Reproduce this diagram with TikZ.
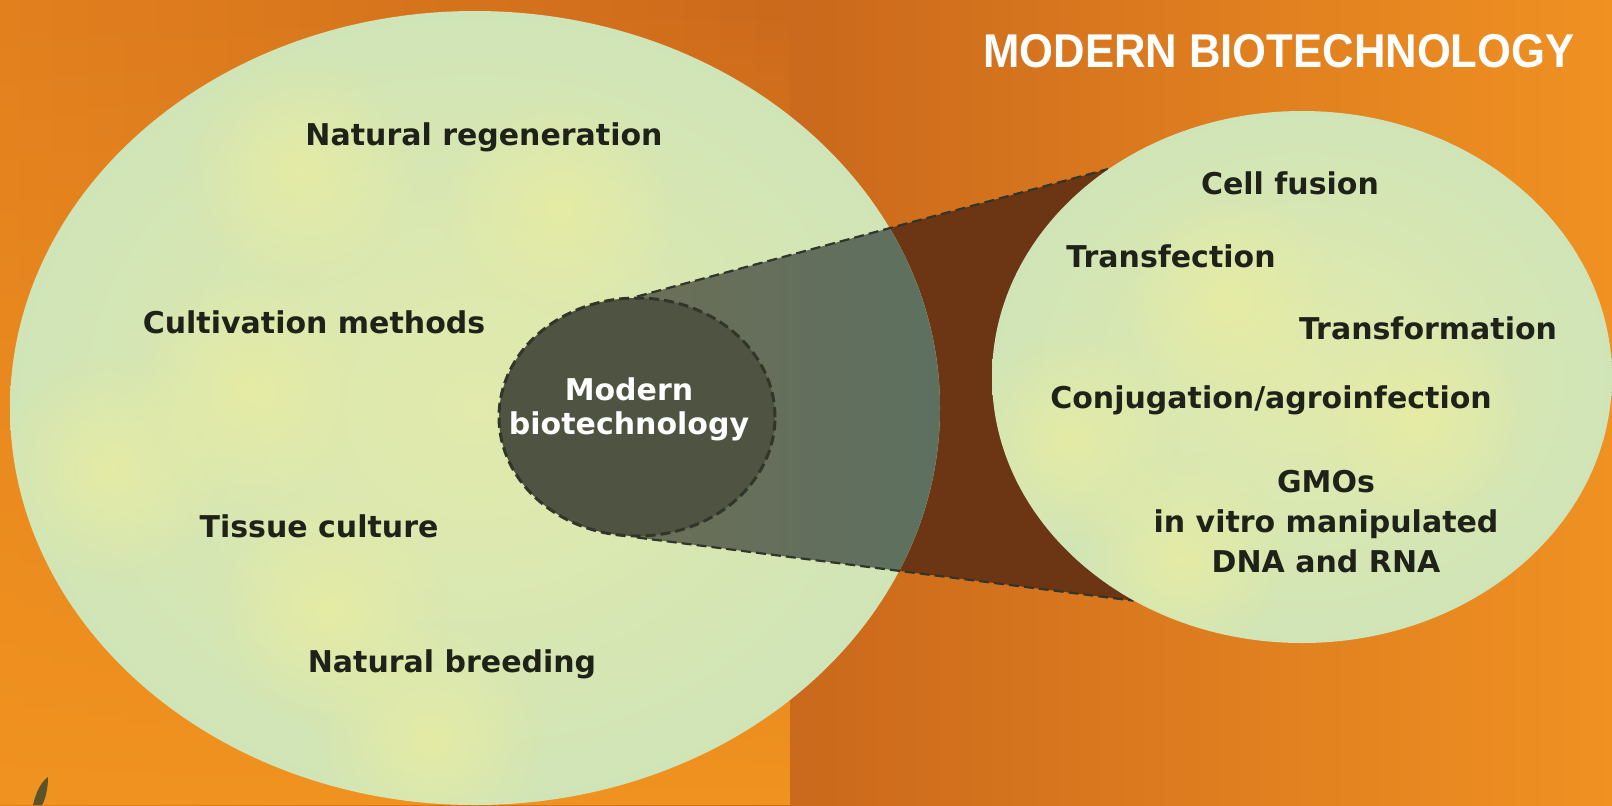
\documentclass[tikz,border=0pt]{standalone}
\usepackage{fontspec}
\setmainfont{DejaVu Sans}
\newfontfamily\titlefont{Liberation Sans}
\usepackage{graphicx}
\usetikzlibrary{shapes.geometric,fadings}

\definecolor{bgleft}{RGB}{226,128,30}
\definecolor{bgdeep}{RGB}{203,105,28}
\definecolor{bgright}{RGB}{240,145,34}
\definecolor{bglight}{RGB}{241,147,32}
\definecolor{blobcentre}{RGB}{226,234,172}
\definecolor{blobmid}{RGB}{206,228,184}
\definecolor{blobedge}{RGB}{174,217,201}
\definecolor{blobyellow}{RGB}{234,237,160}
\definecolor{corefill}{RGB}{79,84,66}
\definecolor{coreline}{RGB}{50,53,41}
\definecolor{conegrey}{RGB}{107,111,87}
\definecolor{conesea}{RGB}{84,112,102}
\definecolor{conebrown}{RGB}{108,54,20}
\definecolor{labeltext}{RGB}{30,34,24}
\definecolor{leafcol}{RGB}{92,84,40}

\pgfdeclareradialshading{blobglow}{\pgfpoint{0bp}{0bp}}{color(0bp)=(blobcentre); color(28bp)=(blobmid); color(50bp)=(blobedge); color(60bp)=(blobedge)}
\tikzfading[name=softspot, inner color=transparent!0, outer color=transparent!100]
\tikzfading[name=risefade, top color=transparent!100, bottom color=transparent!0]

\pgfdeclarelayer{back}
\pgfdeclarelayer{front}
\pgfsetlayers{back,main,front}

\begin{document}
\begin{tikzpicture}[x=0.5pt, y=-0.5pt,
    bigblob/.style={ellipse, shade, shading=blobglow, inner sep=0pt},
    coreblob/.style={ellipse, fill=corefill, draw=coreline, dash pattern=on 5pt off 2.5pt, line width=1.5pt, minimum width=138pt, minimum height=119pt, inner sep=0pt},
    coneedge/.style={draw=coreline, dash pattern=on 5pt off 2.5pt, line width=1.1pt},
    spot/.style={fill=blobyellow, path fading=softspot, opacity=0.75},
    itemtext/.style={text=labeltext, font=\bfseries\fontsize{15}{18}\selectfont, align=center},
    coretext/.style={text=white, font=\bfseries\fontsize{15}{17}\selectfont, align=center},
    titletext/.style={text=white, font=\titlefont\bfseries\fontsize{23.7}{28}\selectfont}]
    \useasboundingbox (0,0) rectangle (1612,805);

    % Background
    \begin{pgfonlayer}{back}
        \shade[left color=bgleft, right color=bgright, middle color=bgdeep] (0,0) rectangle (1612,805);
        \fill[bglight, path fading=risefade] (0,0) rectangle (790,805);
        \fill[leafcol] (33,805) .. controls (36,792) and (41,782) .. (48,777) .. controls (48,790) and (45,800) .. (42,805) -- cycle;
    \end{pgfonlayer}

    % Zoom target and core
    \begin{pgfonlayer}{front}
        \node[bigblob, minimum width=310pt, minimum height=266pt] (zoomed) at (1302,377) {};
        \begin{scope}
            \clip (zoomed.center) ellipse [x radius=155pt, y radius=133pt];
            \foreach \x/\y in {1070/440, 1230/300, 1180/560, 1420/420} {
                \fill[spot] (\x,\y) circle [radius=55pt];
            }
        \end{scope}
        \node[coreblob] (core) at (637,417) {};
    \end{pgfonlayer}

    % Cone between the two ellipses
    \fill[conebrown] (core.north) -- (zoomed.133) -- (zoomed.233) -- (core.south) -- cycle;

    % Traditional methods
    \node[bigblob, minimum width=465pt, minimum height=397pt] (trad) at (475,408) {};
    \begin{scope}
        \clip (trad.center) ellipse [x radius=232.5pt, y radius=198.5pt];
        \foreach \x/\y in {300/170, 560/210, 110/470, 330/610, 250/390, 430/740} {
            \fill[spot] (\x,\y) circle [radius=60pt];
        }
        \shade[left color=conegrey, right color=conesea] (core.north) -- (zoomed.133) -- (zoomed.233) -- (core.south) -- cycle;
    \end{scope}
    \draw[coneedge] (core.north) -- (zoomed.133);
    \draw[coneedge] (core.south) -- (zoomed.233);

    % Labels
    \begin{pgfonlayer}{front}
        \node[titletext] (title) at (1279,51) {\scalebox{0.92}[1]{MODERN BIOTECHNOLOGY}};
        \node[coretext] (corelabel) at (629,409) {Modern\\biotechnology};

        \node[itemtext] (regen) at (484,137) {Natural regeneration};
        \node[itemtext] (cultiv) at (314,322) {Cultivation methods};
        \node[itemtext] (tissue) at (319,526) {Tissue culture};
        \node[itemtext] (breed) at (452,664) {Natural breeding};

        \node[itemtext] (fusion) at (1290,183) {Cell fusion};
        \node[itemtext] (transfect) at (1171,256) {Transfection};
        \node[itemtext] (transform) at (1428,328) {Transformation};
        \node[itemtext] (conjug) at (1271,400) {Conjugation/agroinfection};
        \node[itemtext, font=\bfseries\fontsize{15}{20}\selectfont] (gmo) at (1326,522) {GMOs\\in vitro manipulated\\DNA and RNA};
    \end{pgfonlayer}
\end{tikzpicture}
\end{document}
